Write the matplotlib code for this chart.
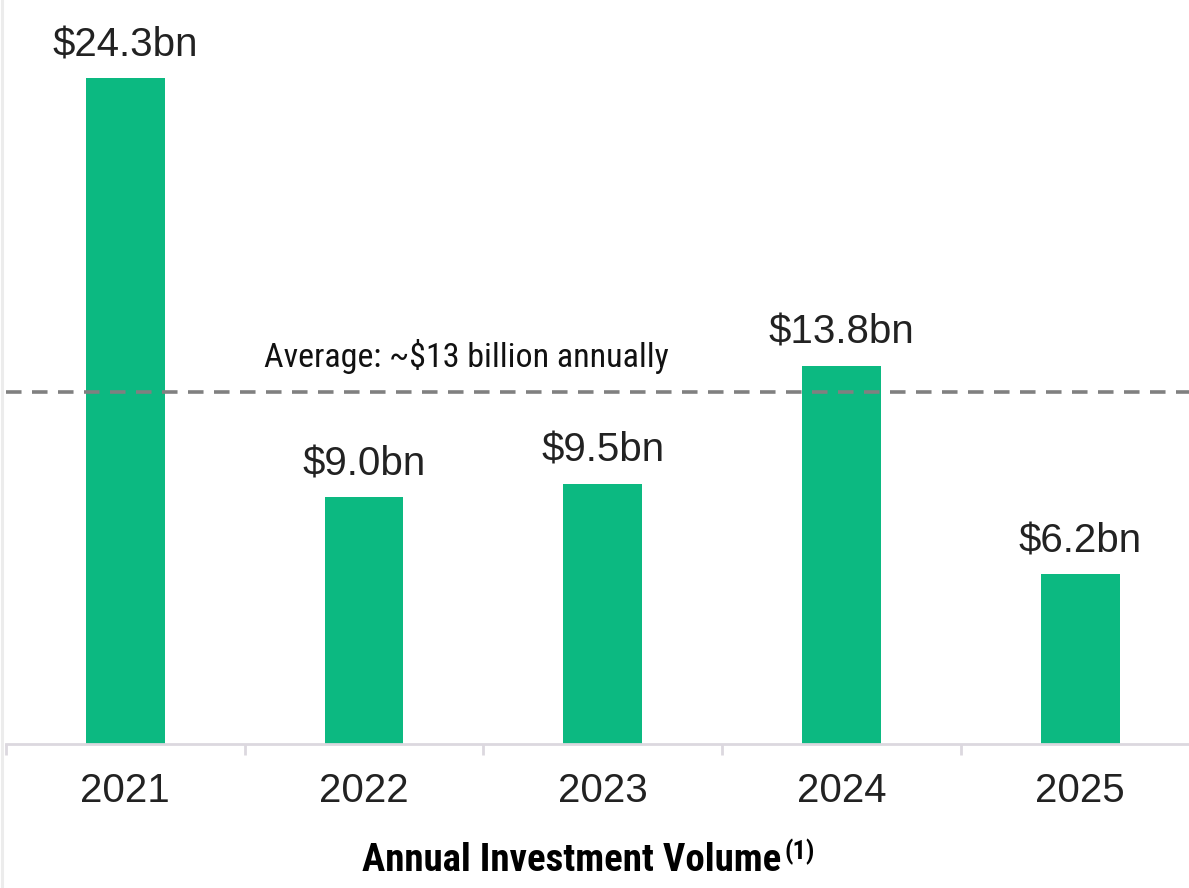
import matplotlib
matplotlib.use("Agg")
import matplotlib.pyplot as plt
from matplotlib.lines import Line2D

years = ["2021", "2022", "2023", "2024", "2025"]
volumes = [24.3, 9.0, 9.5, 13.8, 6.2]
labels = ["$24.3bn", "$9.0bn", "$9.5bn", "$13.8bn", "$6.2bn"]
average = 12.85
average_text = "Average: ~$13 billion annually"
title = "Annual Investment Volume"
title_note = "(1)"

W, H = 1189, 888
fig = plt.figure(figsize=(W / 100, H / 100), dpi=100)
ax = fig.add_axes([6 / W, 144 / H, (1199.5 - 6) / W, 740 / H])

x = list(range(len(years)))
bars = ax.bar(x, volumes, width=0.33, color="#0cb981")
ax.set_xlim(-0.5, 4.5)
ax.set_ylim(0, 27)

ax.bar_label(bars, labels=[l.replace("$", r"\$") for l in labels], padding=10,
             fontsize=29, family="Liberation Sans", color="#222222")

ax.axhline(average, color="#808080", lw=2.6, dashes=(4.3, 2.9))
ax.text(1.43, 13.75, average_text.replace("$", r"\$"), ha="center", va="baseline",
        fontsize=24.5, family=["Roboto Condensed", "DejaVu Sans"], color="#111111")

for s in ["top", "right", "left"]:
    ax.spines[s].set_visible(False)
ax.spines["bottom"].set_color("#dcd8df")
ax.spines["bottom"].set_linewidth(2)
ax.set_yticks([])
ax.set_xticks(x)
ax.set_xticklabels(years, fontsize=29, family="Liberation Sans", color="#222222")
ax.tick_params(axis="x", which="major", length=0, pad=20)
ax.set_xticks([i - 0.5 for i in range(len(years) + 1)], minor=True)
ax.tick_params(axis="x", which="minor", length=8, width=2, color="#dcd8df")

# faint strip at the left edge
fig.add_artist(Line2D([1.5 / W, 1.5 / W], [0, 1], transform=fig.transFigure,
                      color="#ececec", lw=2.2))

tfont = ["Roboto Condensed", "DejaVu Sans"]
t = fig.text(362 / W, 1 - 860 / H, title, ha="left", va="center", fontsize=28,
             fontweight="heavy", family=tfont)
fig.canvas.draw()
bb = t.get_window_extent()
fig.text((bb.x1 + 3) / W, (bb.y1 + 3) / H, title_note, ha="left", va="top",
         fontsize=19, fontweight="heavy", family=tfont)

fig.savefig("out.png", dpi=100)
